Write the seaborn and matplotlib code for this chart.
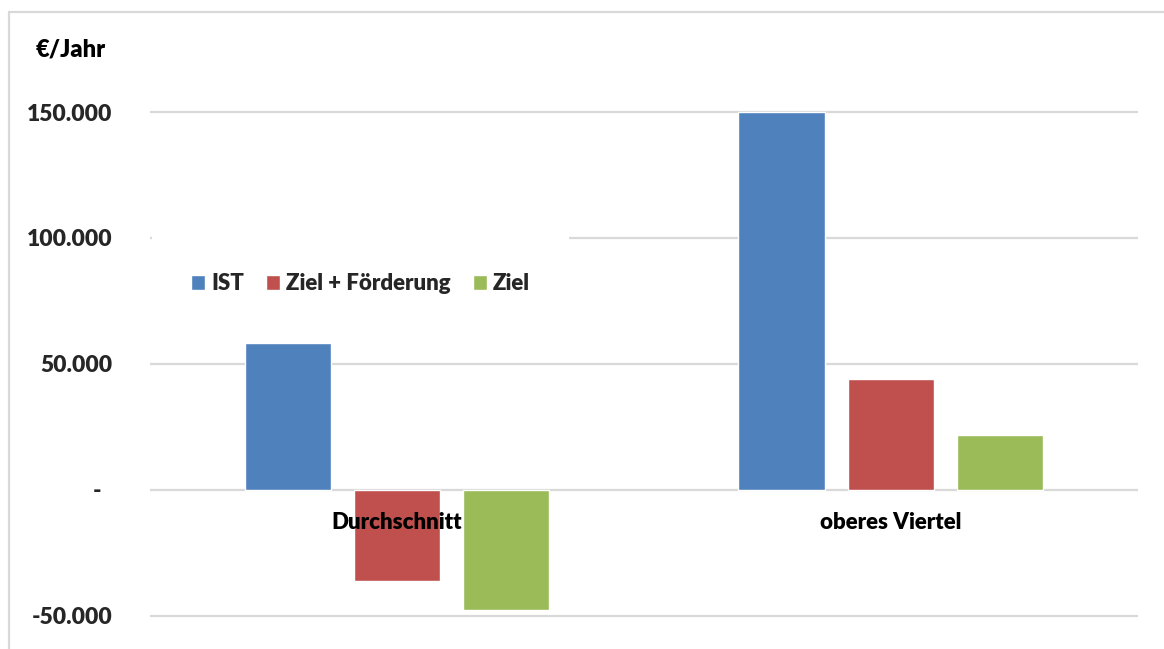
import matplotlib
matplotlib.use("Agg")
import matplotlib.pyplot as plt
import matplotlib.lines as mlines
import seaborn as sns
import pandas as pd

categories = ["Durchschnitt", "oberes Viertel"]
series = ["IST", "Ziel + Förderung", "Ziel"]
ist = [58500, 150000]
ziel_foerderung = [-36200, 44000]
ziel = [-47700, 21600]
colors = ["#4F81BD", "#C0504D", "#9BBB59"]
yticks = [-50000, 0, 50000, 100000, 150000]
ytick_labels = ["-50.000", "-  ", "50.000", "100.000", "150.000"]
unit_label = "€/Jahr"

rows = []
for name, vals in zip(series, [ist, ziel_foerderung, ziel]):
    for c, v in zip(categories, vals):
        rows.append({"Kategorie": c, "Serie": name, "Wert": v})
df = pd.DataFrame(rows)

W = 800

sns.set_theme(style="white")
plt.rcParams["font.family"] = ["Lato", "DejaVu Sans"]
plt.rcParams["font.weight"] = W

fig = plt.figure(figsize=(11.64, 6.49), dpi=100)
ax = fig.add_axes([150 / 1164, 1 - 636 / 649, (1137.5 - 150) / 1164, (636 - 107) / 649])

sns.barplot(data=df, x="Kategorie", y="Wert", hue="Serie", hue_order=series,
            order=categories, palette=colors, width=0.663, gap=0.21,
            saturation=1, ax=ax, legend=True, errorbar=None)

ax.set_ylim(-58000, 152000)
ax.set_xlim(-0.5, 1.5)
ax.set_yticks(yticks)
ax.set_yticklabels(ytick_labels, fontsize=16.5, fontweight=W)
ax.tick_params(axis="y", length=0, pad=27)
ax.set_xticks([])
ax.set_xlabel("")
ax.set_ylabel("")
for s in ax.spines.values():
    s.set_visible(False)
ax.yaxis.grid(True, color="#D9D9D9", linewidth=1.6)
ax.set_axisbelow(True)

for i, c in enumerate(categories):
    ax.annotate(c, xy=(i, 0), xytext=(0, -16), textcoords="offset points",
                ha="center", va="top", fontsize=16, fontweight=W,
                color="black", zorder=5)

leg = ax.legend(loc="upper left", bbox_to_anchor=((152 - 150) / 987.5, (636 - 234) / 529),
                borderaxespad=0, ncol=3, frameon=True, handlelength=0.65, handleheight=0.65,
                handletextpad=0.25, columnspacing=1.0, borderpad=1.75,
                prop={"weight": W, "size": 16})
leg.get_frame().set_facecolor("white")
leg.get_frame().set_edgecolor("none")
leg.get_frame().set_alpha(1)
leg.get_frame().set_boxstyle("square", pad=0)

fig.text(36 / 1164, 1 - 50 / 649, unit_label, fontsize=17, fontweight=W,
         ha="left", va="center", color="black")

fig.add_artist(mlines.Line2D([9 / 1164, 9 / 1164], [0, 1 - 12 / 649],
                             transform=fig.transFigure, color="#D9D9D9", linewidth=1.6))
fig.add_artist(mlines.Line2D([9 / 1164, 1], [1 - 12 / 649, 1 - 12 / 649],
                             transform=fig.transFigure, color="#D9D9D9", linewidth=1.6))

fig.savefig("out.png", dpi=100)
